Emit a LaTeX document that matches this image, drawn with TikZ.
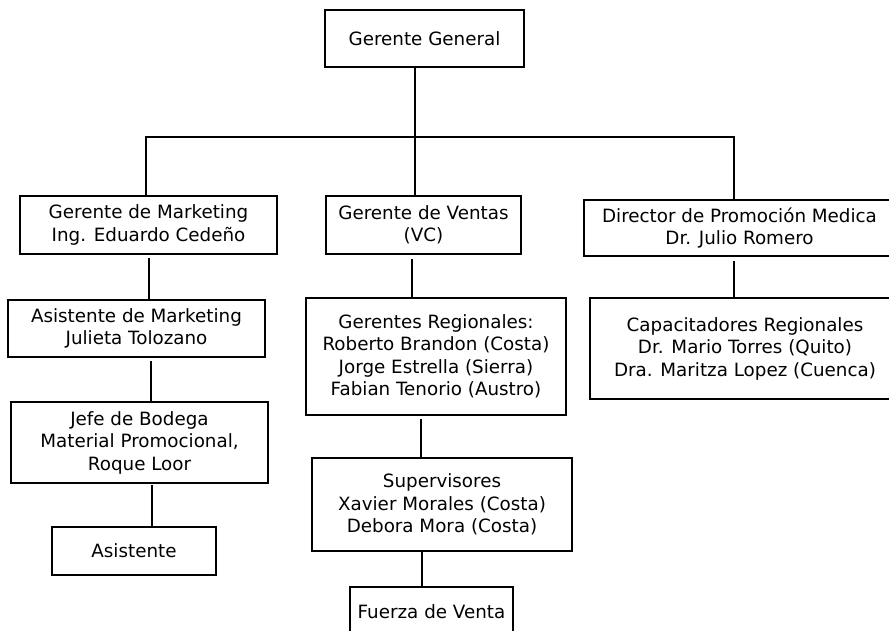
\documentclass[tikz,border=0pt]{standalone}
\usepackage{fontspec}
\setmainfont{DejaVu Sans}
\begin{document}
\begin{tikzpicture}[x=1pt,y=-1pt,
  box/.style={draw=black,line width=1.5pt,inner sep=0pt,align=center,
    font=\fontsize{18.3}{22.5}\selectfont},
  link/.style={draw=black,line width=1.5pt}]
\useasboundingbox (0,0) rectangle (889,631);
\clip (0,0) rectangle (889,631);
\node[box,minimum width=199pt,minimum height=57pt] (gg) at (424.5,38.5) {Gerente General};
\node[box,minimum width=257pt,minimum height=58pt] (mk) at (148.5,225) {Gerente de Marketing\\Ing. Eduardo Cedeño};
\node[box,minimum width=195pt,minimum height=58pt] (vt) at (423.5,225) {Gerente de Ventas\\(VC)};
\node[box,minimum width=311pt,minimum height=56pt] (dir) at (739.5,228) {Director de Promoción Medica\\Dr. Julio Romero};
\node[box,minimum width=257pt,minimum height=57pt] (am) at (136.5,328.5) {Asistente de Marketing\\Julieta Tolozano};
\node[box,minimum width=257pt,minimum height=81pt] (jb) at (139.5,442.5) {Jefe de Bodega\\Material Promocional,\\Roque Loor};
\node[box,minimum width=164pt,minimum height=48pt] (as) at (134,551) {Asistente};
\node[box,minimum width=260pt,minimum height=117pt] (gr) at (436,356.5) {Gerentes Regionales:\\Roberto Brandon (Costa)\\Jorge Estrella (Sierra)\\Fabian Tenorio (Austro)};
\node[box,minimum width=260pt,minimum height=93pt] (sp) at (442,504.5) {Supervisores\\Xavier Morales (Costa)\\Debora Mora (Costa)};
\node[box,minimum width=163pt,minimum height=50pt] (fv) at (431.5,612) {Fuerza de Venta};
\node[box,minimum width=310pt,minimum height=101pt] (cap) at (745,348.5) {Capacitadores Regionales\\Dr. Mario Torres (Quito)\\Dra. Maritza Lopez (Cuenca)};
% connectors
\coordinate (bus) at (415,137);
\draw[link] (gg.south -| bus) -- (bus) -- (vt.north -| bus);
\draw[link] (mk.north -| 146,0) |- (bus) -| (dir.north -| 734,0);
\draw[link] (149,258) -- (am.north -| 149,0);
\draw[link] (151,361) -- (jb.north -| 151,0);
\draw[link] (152,485) -- (as.north -| 152,0);
\draw[link] (412,259) -- (gr.north -| 412,0);
\draw[link] (421,419) -- (sp.north -| 421,0);
\draw[link] (sp.south -| 422,0) -- (fv.north -| 422,0);
\draw[link] (734,261) -- (cap.north -| 734,0);
\end{tikzpicture}
\end{document}
